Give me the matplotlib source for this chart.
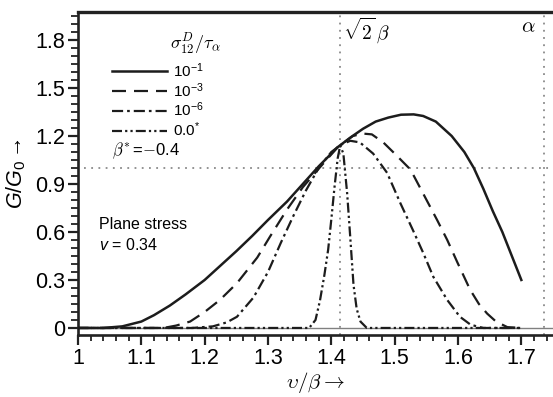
import numpy as np
import matplotlib
matplotlib.use("Agg")
import matplotlib.pyplot as plt
from matplotlib.ticker import MultipleLocator, FixedLocator, FixedFormatter

plt.rcParams['font.family'] = ['Liberation Sans', 'DejaVu Sans']
plt.rcParams['mathtext.fontset'] = 'custom'
plt.rcParams['mathtext.rm'] = 'Liberation Sans'
plt.rcParams['mathtext.it'] = 'Liberation Sans:italic'
plt.rcParams['mathtext.bf'] = 'Liberation Sans:bold'

# ---- data ----
x_solid = [1.00, 1.04, 1.07, 1.10, 1.12, 1.145, 1.17, 1.20, 1.225, 1.25, 1.275, 1.30, 1.33,
           1.355, 1.38, 1.41, 1.43, 1.45, 1.47, 1.49, 1.51, 1.53, 1.545, 1.565, 1.59, 1.61,
           1.625, 1.64, 1.655, 1.67, 1.685, 1.70]
g_solid = [0.0, 0.0, 0.01, 0.04, 0.08, 0.14, 0.21, 0.30, 0.39, 0.48, 0.575, 0.675, 0.79,
           0.90, 1.01, 1.13, 1.19, 1.245, 1.29, 1.315, 1.333, 1.335, 1.325, 1.29, 1.20, 1.10,
           1.00, 0.87, 0.73, 0.60, 0.45, 0.30]

x_dash = [1.00, 1.10, 1.135, 1.155, 1.177, 1.20, 1.224, 1.251, 1.283, 1.303, 1.33, 1.355,
          1.38, 1.41, 1.434, 1.45, 1.464, 1.482, 1.50, 1.525, 1.545, 1.567, 1.583, 1.599,
          1.619, 1.633, 1.646, 1.66, 1.678, 1.70]
g_dash = [0.0, 0.0, 0.0, 0.015, 0.04, 0.10, 0.175, 0.28, 0.44, 0.57, 0.74, 0.88,
          0.995, 1.13, 1.20, 1.215, 1.21, 1.16, 1.09, 0.99, 0.84, 0.675, 0.55, 0.41,
          0.24, 0.15, 0.09, 0.04, 0.005, 0.0]

x_dashdot = [1.00, 1.18, 1.213, 1.235, 1.251, 1.277, 1.30, 1.32, 1.34, 1.36, 1.38, 1.40,
             1.415, 1.43, 1.445, 1.466, 1.488, 1.509, 1.529, 1.545, 1.561, 1.583, 1.603,
             1.62, 1.64, 1.70]
g_dashdot = [0.0, 0.0, 0.01, 0.035, 0.07, 0.19, 0.35, 0.53, 0.70, 0.86, 1.00, 1.10,
             1.145, 1.17, 1.16, 1.09, 0.97, 0.78, 0.61, 0.47, 0.32, 0.175, 0.07,
             0.02, 0.0, 0.0]

x_ddot = [1.00, 1.365, 1.375, 1.382, 1.389, 1.395, 1.400, 1.405, 1.410, 1.414, 1.419,
          1.425, 1.430, 1.435, 1.440, 1.446, 1.456, 1.70]
g_ddot = [0.0, 0.0, 0.05, 0.17, 0.33, 0.49, 0.68, 0.88, 1.06, 1.14, 1.09,
          0.84, 0.56, 0.27, 0.12, 0.04, 0.0, 0.0]

legend_labels = ['10$^{-1}$', '10$^{-3}$', '10$^{-6}$', '0.0$^{*}$']
x_ticks = [1.0, 1.1, 1.2, 1.3, 1.4, 1.5, 1.6, 1.7]
x_ticklabels = ['1', '1.1', '1.2', '1.3', '1.4', '1.5', '1.6', '1.7']
y_ticks = [0.0, 0.3, 0.6, 0.9, 1.2, 1.5, 1.8]
y_ticklabels = ['0', '0.3', '0.6', '0.9', '1.2', '1.5', '1.8']
x_sqrt2 = np.sqrt(2.0)
x_alpha = 1.736
g_ref = 1.0

# ---- figure ----
W, H = 553, 397
fig = plt.figure(figsize=(W / 100, H / 100), dpi=100)
ax = fig.add_axes([78 / W, 62 / H, 475 / W, 323 / H])
ax.set_xlim(1.0, 1.75)
ax.set_ylim(-0.044, 1.975)

guide = dict(color='#8a8a8a', lw=1.3, linestyle=(0, (1, 3)), zorder=1)
ax.axvline(x_sqrt2, **guide)
ax.axvline(x_alpha, **guide)
ax.plot([1.01, 1.75], [g_ref, g_ref], **guide)
ax.axhline(0.0, color='#808080', lw=1.0, zorder=1)

col = '#1c1c1c'
lw = 1.6
l1, = ax.plot(x_solid, g_solid, color=col, lw=1.8, zorder=3)
l2, = ax.plot(x_dash, g_dash, color=col, lw=lw, zorder=3)
l2.set_dashes([6.3, 3.6])
l3, = ax.plot(x_dashdot, g_dashdot, color=col, lw=lw, zorder=3)
l3.set_dashes([5.0, 1.8, 1.2, 1.8])
l4, = ax.plot(x_ddot, g_ddot, color=col, lw=lw, zorder=3)
l4.set_dashes([4.5, 1.4, 1.0, 1.4, 1.0, 1.4])

leg = ax.legend([l1, l2, l3, l4], legend_labels, loc='upper left',
                bbox_to_anchor=(34 / 475, 0.848), frameon=False, fontsize=11,
                handlelength=3.6, handletextpad=0.4, labelspacing=0.08,
                borderpad=0, borderaxespad=0)

# ---- spines & ticks ----
ax.spines['right'].set_visible(False)
ax.spines['top'].set_linewidth(2.4)
ax.spines['left'].set_linewidth(1.9)
ax.spines['bottom'].set_linewidth(1.9)
for s in ax.spines.values():
    s.set_color('#222222')

ax.xaxis.set_major_locator(FixedLocator(x_ticks))
ax.xaxis.set_major_formatter(FixedFormatter(x_ticklabels))
ax.yaxis.set_major_locator(FixedLocator(y_ticks))
ax.yaxis.set_major_formatter(FixedFormatter(y_ticklabels))
ax.xaxis.set_minor_locator(MultipleLocator(0.02))
ax.yaxis.set_minor_locator(MultipleLocator(0.05))
ax.tick_params(axis='both', which='major', direction='out', length=7, width=1.6,
               labelsize=15.5, color='#222222', pad=2)
ax.tick_params(axis='x', which='minor', direction='out', length=4, width=1.3, color='#222222')
ax.tick_params(axis='y', which='minor', direction='out', length=5, width=1.3, color='#222222')
ax.tick_params(top=False, right=False, which='both')

ax.set_xlabel(r'$\upsilon/\beta \rightarrow$', fontsize=15, math_fontfamily='cm', labelpad=1)
ax.set_ylabel(r'$G/G_0 \rightarrow$', fontsize=15.5, labelpad=5)

# ---- annotations ----
ax.text(1.145, 1.775, r'$\sigma_{12}^{D}/\tau_{\alpha}$', fontsize=13, math_fontfamily='cm',
        ha='left', va='center')
ax.text(1.054, 1.11, r'$\beta^{*}\,$=$-$0.4', fontsize=12, math_fontfamily='cm',
        ha='left', va='center')
ax.text(1.033, 0.645, 'Plane stress', fontsize=11.5, ha='left', va='center')
ax.text(1.033, 0.52, '$v$ = 0.34', fontsize=11.5, ha='left', va='center')
ax.text(1.419, 1.86, r'$\sqrt{2}\,\beta$', fontsize=14, math_fontfamily='cm',
        ha='left', va='center')
ax.text(1.700, 1.885, r'$\alpha$', fontsize=15, math_fontfamily='cm', ha='left', va='center')

fig.savefig('out.png', dpi=100)
